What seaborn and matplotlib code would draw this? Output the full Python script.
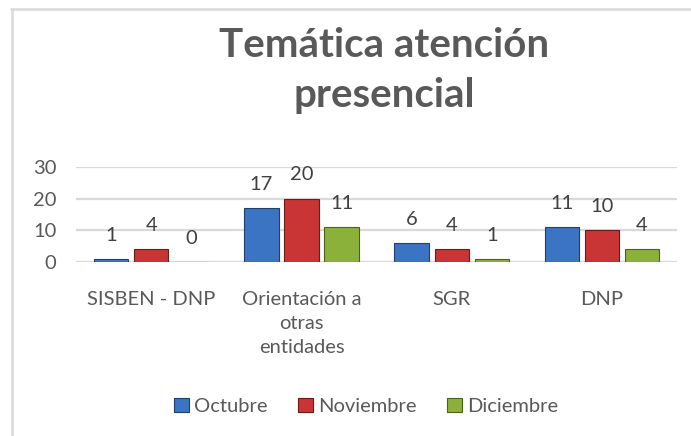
import matplotlib
matplotlib.use("Agg")
import matplotlib.pyplot as plt
import seaborn as sns
import pandas as pd
from matplotlib.patches import Rectangle
from matplotlib.lines import Line2D

categories = ["SISBEN - DNP", "Orientación a\notras\nentidades", "SGR", "DNP"]
series_names = ["Octubre", "Noviembre", "Diciembre"]
octubre = [1, 17, 6, 11]
noviembre = [4, 20, 4, 10]
diciembre = [0, 11, 1, 4]
title = "Temática atención\npresencial"

colors = ["#3b74c2", "#c93434", "#8cb13a"]
edges = ["#1f3f6e", "#6e1a1a", "#4a611c"]

rows = []
for name, vals in zip(series_names, [octubre, noviembre, diciembre]):
    for c, v in zip(categories, vals):
        rows.append({"cat": c, "serie": name, "val": v})
df = pd.DataFrame(rows)

sns.set_theme(style="white")
plt.rcParams["font.family"] = ["Lato", "DejaVu Sans"]

fig = plt.figure(figsize=(6.91, 4.36), dpi=100)
ax = fig.add_axes([0.110, 0.399, 0.870, 0.218])

sns.barplot(data=df, x="cat", y="val", hue="serie", palette=colors,
            width=0.8, gap=0.14, ax=ax, legend=False, saturation=1)

for container, ec, vals in zip(ax.containers, edges, [octubre, noviembre, diciembre]):
    for bar in container:
        bar.set_edgecolor(ec)
        bar.set_linewidth(0.8)
        bar.set_zorder(3)
    ax.bar_label(container, labels=[str(v) for v in vals], padding=11,
                 fontsize=14.5, color="#404040")

ax.set_ylim(0, 30)
ax.set_yticks([0, 10, 20, 30])
ax.set_xlim(-0.5, 3.5)
ax.grid(axis="y", color="#d9d9d9", linewidth=1.6, zorder=0)
ax.set_axisbelow(True)
for s in ax.spines.values():
    s.set_visible(False)
ax.set_xlabel("")
ax.set_ylabel("")
ax.tick_params(axis="y", labelsize=14.5, labelcolor="#595959", length=0, pad=14)
ax.tick_params(axis="x", labelsize=14.5, labelcolor="#595959", length=0, pad=21)
for lbl in ax.get_xticklabels():
    lbl.set_linespacing(1.5)
    lbl.set_verticalalignment("top")

fig.text(0.556, 0.838, title, ha="center", va="center", fontsize=29,
         fontweight="bold", color="#595959", linespacing=1.42)

handles = [Rectangle((0, 0), 1, 1, facecolor=c, edgecolor=e, linewidth=0.8)
           for c, e in zip(colors, edges)]
fig.legend(handles, series_names, loc="center", bbox_to_anchor=(0.53, 0.068),
           ncol=3, frameon=False, fontsize=14.5, labelcolor="#595959",
           handlelength=0.75, handleheight=0.75, handletextpad=0.25,
           columnspacing=1.5)

fig.add_artist(Line2D([0.017, 0.017], [0, 0.979], transform=fig.transFigure,
                      color="#d9d9d9", linewidth=1.8))
fig.add_artist(Line2D([0.016, 1.0], [0.979, 0.979], transform=fig.transFigure,
                      color="#d9d9d9", linewidth=1.8))

fig.savefig("out.png", dpi=100)
